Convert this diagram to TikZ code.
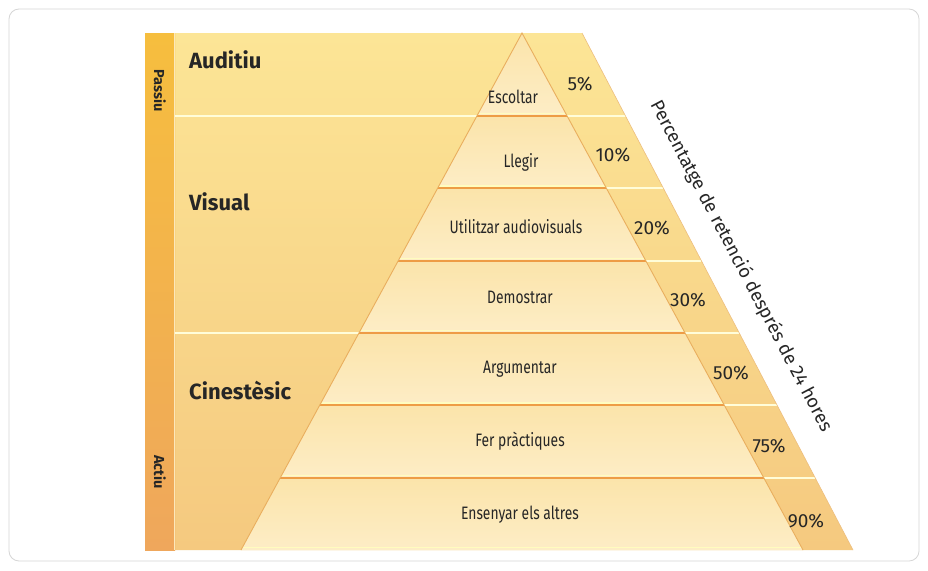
\documentclass[tikz,border=0pt]{standalone}
\usepackage{fontspec}
\setmainfont{Fira Sans}
\newfontfamily\condfont[FakeStretch=0.77]{Fira Sans}
\definecolor{frame}{HTML}{D6D6D6}
\definecolor{stripTop}{HTML}{F6BE3E}
\definecolor{stripBot}{HTML}{EFA75C}
\definecolor{bgTop}{HTML}{FCE596}
\definecolor{bgBot}{HTML}{F5C97F}
\definecolor{tierA}{HTML}{FBE4AA}
\definecolor{tierB}{HTML}{FDEDC6}
\definecolor{tierLine}{HTML}{EE9C45}
\definecolor{edgeLine}{HTML}{E9AE5E}
\definecolor{ink}{HTML}{262626}
\tikzset{
  region/.style={anchor=west, inner sep=0pt, text=ink, font=\fontsize{22}{24}\selectfont\bfseries},
  side/.style={inner sep=0pt, text=ink, rotate=-90, font=\fontsize{14.5}{16}\selectfont\bfseries},
  tierlabel/.style={inner sep=0pt, text=ink, font=\condfont\fontsize{18}{20}\selectfont},
  pct/.style={inner sep=0pt, text=ink, font=\fontsize{19}{21}\selectfont},
  whiteline/.style={draw=white!85!yellow, line width=2pt},
  highline/.style={draw=white!75!yellow, line width=1.4pt},
  orangeline/.style={draw=tierLine, line width=1.8pt},
}
\begin{document}
\begin{tikzpicture}[x=1pt,y=-1pt]
\useasboundingbox (0,0) rectangle (928,570);
\fill[white] (0,0) rectangle (928,570);
\draw[frame, line width=0.8pt, rounded corners=10pt] (9,9) rectangle (919,561);

% coordinates
\coordinate (TL) at (175,33);
\coordinate (TR) at (582,33);
\coordinate (BR) at (853,550);
\coordinate (BL) at (175,550);
\coordinate (A) at (522,33);
\coordinate (P1l) at (476.9,116);   \coordinate (P1r) at (567.1,116);   \coordinate (O1) at (625.5,116);
\coordinate (P2l) at (437.6,188.3); \coordinate (P2r) at (606.4,188.3); \coordinate (O2) at (663.4,188.3);
\coordinate (P3l) at (398.3,260.7); \coordinate (P3r) at (645.7,260.7); \coordinate (O3) at (701.3,260.7);
\coordinate (P4l) at (359.0,333);   \coordinate (P4r) at (685.0,333);   \coordinate (O4) at (739.2,333);
\coordinate (P5l) at (319.7,405.3); \coordinate (P5r) at (724.3,405.3); \coordinate (O5) at (777.1,405.3);
\coordinate (P6l) at (280.3,477.7); \coordinate (P6r) at (763.7,477.7); \coordinate (O6) at (815.0,477.7);
\coordinate (P7l) at (241.0,550);   \coordinate (P7r) at (803.0,550);

% background shape
\shade[top color=bgTop, bottom color=bgBot] (TL) -- (TR) -- (BR) -- (BL) -- cycle;
% left strip
\shade[top color=stripTop, bottom color=stripBot] (145,33) rectangle (175,550);
\draw[white!65!stripTop, line width=0.8pt] (174.5,33) -- (174.5,550);

% pyramid tiers
\shade[top color=tierA, bottom color=tierB] (A) -- (P1r) -- (P1l) -- cycle;
\shade[top color=tierA, bottom color=tierB] (P1l) -- (P1r) -- (P2r) -- (P2l) -- cycle;
\shade[top color=tierA, bottom color=tierB] (P2l) -- (P2r) -- (P3r) -- (P3l) -- cycle;
\shade[top color=tierA, bottom color=tierB] (P3l) -- (P3r) -- (P4r) -- (P4l) -- cycle;
\shade[top color=tierA, bottom color=tierB] (P4l) -- (P4r) -- (P5r) -- (P5l) -- cycle;
\shade[top color=tierA, bottom color=tierB] (P5l) -- (P5r) -- (P6r) -- (P6l) -- cycle;
\shade[top color=tierA, bottom color=tierB] (P6l) -- (P6r) -- (P7r) -- (P7l) -- cycle;

% white separators
\draw[whiteline] (175,116) -- (P1l);
\draw[whiteline] (175,333) -- (P4l);
\draw[whiteline] (P1r) -- (O1);
\draw[whiteline] (P2r) -- (O2);
\draw[whiteline] (P3r) -- (O3);
\draw[whiteline] (P4r) -- (O4);
\draw[whiteline] (P5r) -- (O5);
\draw[whiteline] (P6r) -- (O6);
% highlight above tier lines
\draw[highline] ([xshift=1.5pt,yshift=2.5pt]P1l) -- ([xshift=-1.5pt,yshift=2.5pt]P1r);
\draw[highline] ([xshift=1.5pt,yshift=2.5pt]P2l) -- ([xshift=-1.5pt,yshift=2.5pt]P2r);
\draw[highline] ([xshift=1.5pt,yshift=2.5pt]P3l) -- ([xshift=-1.5pt,yshift=2.5pt]P3r);
\draw[highline] ([xshift=1.5pt,yshift=2.5pt]P4l) -- ([xshift=-1.5pt,yshift=2.5pt]P4r);
\draw[highline] ([xshift=1.5pt,yshift=2.5pt]P5l) -- ([xshift=-1.5pt,yshift=2.5pt]P5r);
\draw[highline] ([xshift=1.5pt,yshift=2.5pt]P6l) -- ([xshift=-1.5pt,yshift=2.5pt]P6r);
\draw[highline] ([xshift=1.5pt,yshift=2.5pt]P7l) -- ([xshift=-1.5pt,yshift=2.5pt]P7r);
% orange tier lines
\draw[orangeline] (P1l) -- (P1r);
\draw[orangeline] (P2l) -- (P2r);
\draw[orangeline] (P3l) -- (P3r);
\draw[orangeline] (P4l) -- (P4r);
\draw[orangeline] (P5l) -- (P5r);
\draw[orangeline] (P6l) -- (P6r);
% pyramid edges
\draw[edgeLine, line width=0.9pt] (P7l) -- (A) -- (P7r);
\draw[edgeLine!80!white, line width=0.6pt] (TR) -- (BR);

% labels
\node[region] (aud) at (189,60) {Auditiu};
\node[region] (vis) at (189,202) {Visual};
\node[region] (cin) at (189,390) {Cinestèsic};
\node[side] (pas) at (160,91) {Passiu};
\node[side] (act) at (160,472) {Actiu};

\node[tierlabel] (t1) at (513,97) {Escoltar};
\node[tierlabel] (t2) at (521,162) {Llegir};
\node[tierlabel] (t3) at (516,227) {Utilitzar audiovisuals};
\node[tierlabel] (t4) at (520,297) {Demostrar};
\node[tierlabel] (t5) at (520,369) {Argumentar};
\node[tierlabel] (t6) at (520,441) {Fer pràctiques};
\node[tierlabel] (t7) at (520,515) {Ensenyar els altres};

\node[pct] (p1) at (580,84) {5\%};
\node[pct] (p2) at (613,155) {10\%};
\node[pct] (p3) at (652,228) {20\%};
\node[pct] (p4) at (688,300) {30\%};
\node[pct] (p5) at (731,373) {50\%};
\node[pct] (p6) at (769,446) {75\%};
\node[pct] (p7) at (806,521) {90\%};

\node[inner sep=0pt, text=ink, rotate=-62.3, font=\fontsize{18.5}{20}\selectfont] (title) at (741,266) {Percentatge de retenció després de 24 hores};
\end{tikzpicture}
\end{document}
